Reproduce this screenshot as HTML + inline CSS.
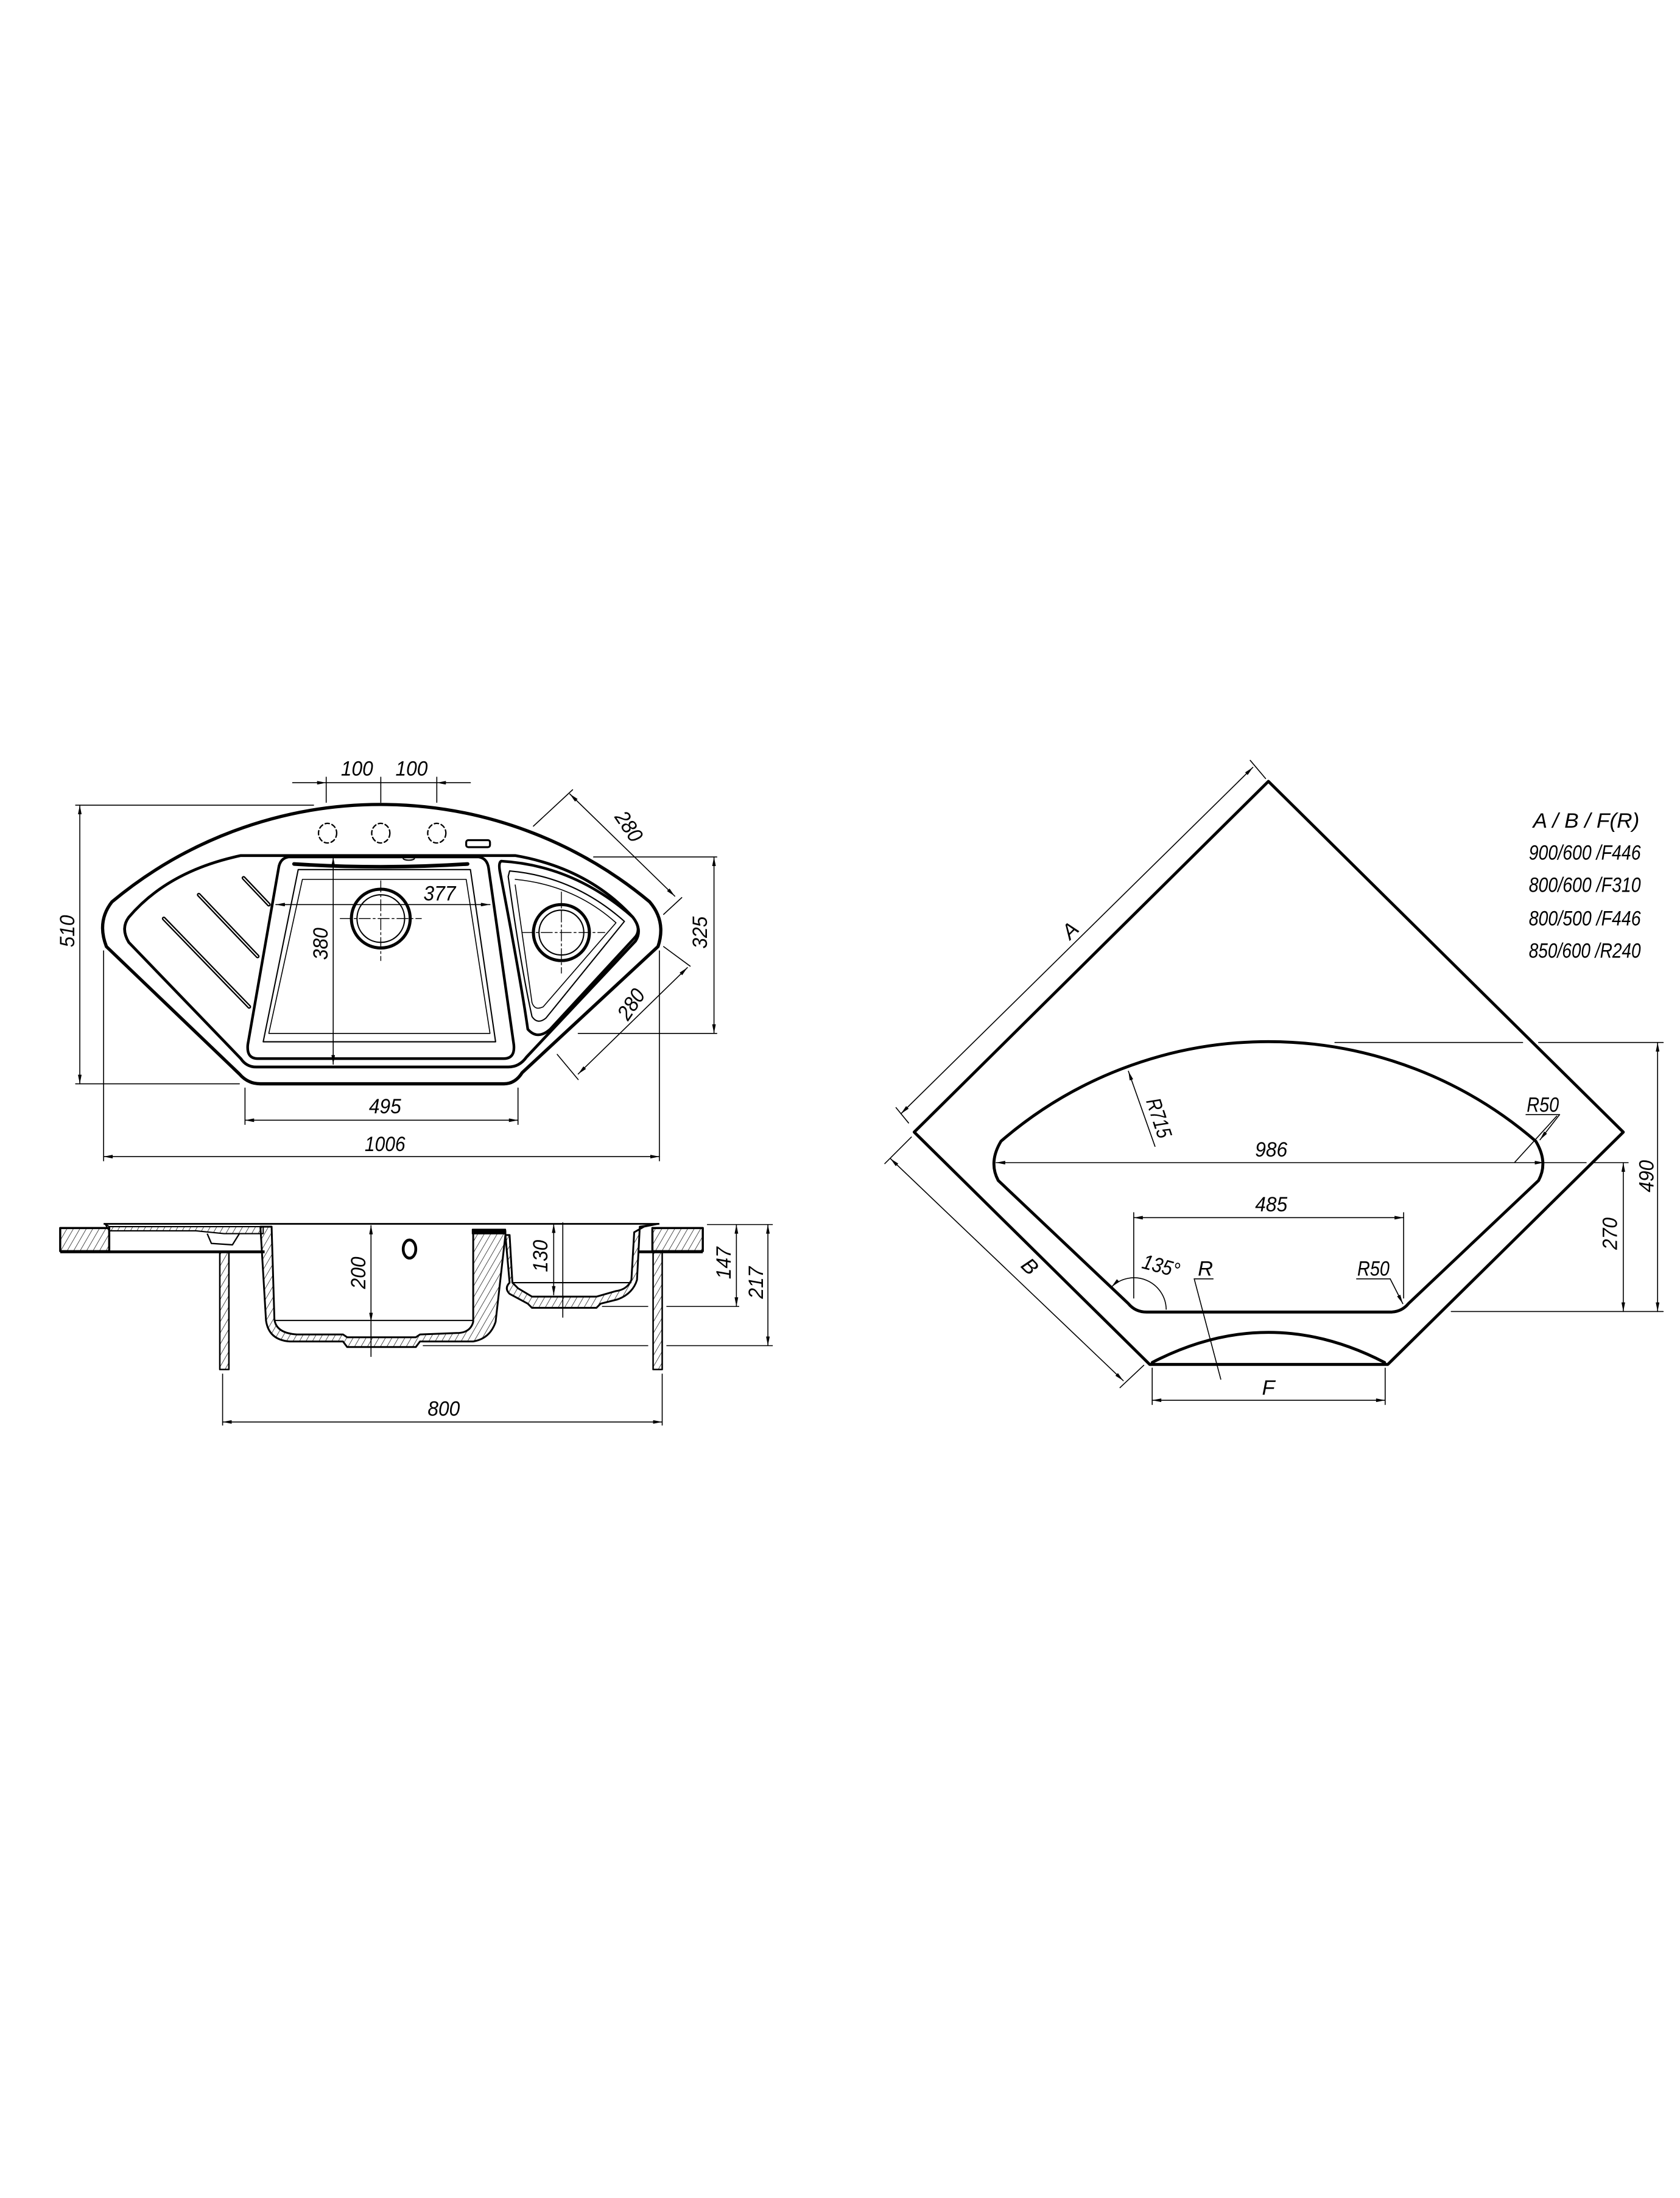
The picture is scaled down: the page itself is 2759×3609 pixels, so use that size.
<!DOCTYPE html>
<html><head><meta charset="utf-8"><style>
html,body{margin:0;padding:0;background:#fff;}
svg{display:block;}
text{font-family:"Liberation Sans",sans-serif;font-style:italic;fill:#000;}
</style></head><body>
<svg width="2759" height="3609" viewBox="0 0 1200 1569.7" xmlns="http://www.w3.org/2000/svg">
<defs>
<marker id="a" viewBox="0 0 10 4" refX="10" refY="2" markerWidth="8" markerHeight="2.6" orient="auto-start-reverse" markerUnits="userSpaceOnUse"><path d="M0,0 L10,2 L0,4 z" fill="#000"/></marker>
<pattern id="h" width="4" height="4" patternUnits="userSpaceOnUse" patternTransform="rotate(30)"><line x1="0" y1="0" x2="0" y2="4" stroke="#000" stroke-width="0.6"/></pattern>
</defs>
<rect width="1200" height="1569.7" fill="#fff"/>

<!-- ===== TOP LEFT PLAN ===== -->
<g fill="none" stroke="#000" stroke-linejoin="round" stroke-linecap="round">
<path d="M80,644 A300,300 0 0 1 464,644 Q476,658 470,676 L373,766 Q368,774 360,774 L186,774 Q177,774 171,767 L76,676 Q69,658 80,644 Z" stroke-width="2.3"/>
<path d="M172,611 L368,611 Q420,620 452,655 Q459,664 454,672 L376,755 Q371,762 363,762 L183,762 Q176,762 172,756 L92,673 Q86,663 92,655 Q120,622 172,611 Z" stroke-width="2"/>
<path d="M206,612 L342,612 Q348,613 349,620 L367,746 Q368,756 360,756 L184,756 Q176,756 177,746 L199,620 Q200,613 206,612 Z" stroke-width="1.9"/>
<path d="M213,621 L336,621 L354,744 L188,744 Z" stroke-width="0.9"/>
<path d="M216,628 L333,628 L350,738 L192,738 Z" stroke-width="0.7"/>
<path d="M210,617 Q272,621 334,617" stroke-width="2.6"/>
<path d="M358,615 Q410,618 452,655 Q459,664 453,670 L393,735 Q384,743 377,735 Q372,700 357,622 Q356,616 358,615 Z" stroke-width="1.9"/>
<path d="M364,622 Q410,626 446,658 L390,727 Q384,732 380,726 Q372,690 363,626 Z" stroke-width="0.9"/>
<path d="M368,628 Q410,632 440,659 L388,719 Q382,722 380,716 L368,632" stroke-width="0.7"/>
<g stroke-width="2.8"><line x1="174" y1="627" x2="192" y2="646"/><line x1="142" y1="639" x2="184" y2="683"/><line x1="117" y1="656" x2="178" y2="719"/></g>
<g stroke="#fff" stroke-width="0.8"><line x1="174" y1="627" x2="192" y2="646"/><line x1="142" y1="639" x2="184" y2="683"/><line x1="117" y1="656" x2="178" y2="719"/></g>
<circle cx="272" cy="656" r="21" stroke-width="2.2"/><circle cx="272" cy="656" r="17" stroke-width="0.9"/>
<circle cx="401" cy="666" r="20" stroke-width="2.2"/><circle cx="401" cy="666" r="16" stroke-width="0.9"/>
<g stroke-width="0.6" stroke-dasharray="8 2 1.5 2"><line x1="243" y1="656" x2="301" y2="656"/><line x1="272" y1="629" x2="272" y2="686"/><line x1="373" y1="666" x2="432" y2="666"/><line x1="401" y1="637" x2="401" y2="695"/></g>
<g stroke-width="1" stroke-dasharray="3 2"><ellipse cx="234" cy="595" rx="6.5" ry="7"/><ellipse cx="272" cy="595" rx="6.5" ry="7"/><ellipse cx="312" cy="595" rx="6.5" ry="7"/></g>
<rect x="333" y="600" width="17" height="5" rx="1.5" stroke-width="1.4"/>
<ellipse cx="292" cy="613" rx="4" ry="1.3" stroke-width="0.9"/>
<g stroke-width="0.7">
<line x1="209" y1="559" x2="233" y2="559" marker-end="url(#a)"/><line x1="336" y1="559" x2="312" y2="559" marker-end="url(#a)"/>
<line x1="233" y1="559" x2="312" y2="559"/>
<line x1="233" y1="555" x2="233" y2="573"/><line x1="272" y1="555" x2="272" y2="573"/><line x1="312" y1="555" x2="312" y2="573"/>
<line x1="57" y1="575" x2="57" y2="774" marker-start="url(#a)" marker-end="url(#a)"/>
<line x1="54" y1="575" x2="224" y2="575"/><line x1="54" y1="774" x2="171" y2="774"/>
<line x1="197" y1="646" x2="350" y2="646" marker-start="url(#a)" marker-end="url(#a)"/>
<line x1="238" y1="612" x2="238" y2="760" marker-start="url(#a)" marker-end="url(#a)"/>
<line x1="407" y1="567" x2="482" y2="640" marker-start="url(#a)" marker-end="url(#a)"/>
<line x1="381" y1="590" x2="409" y2="564"/><line x1="474" y1="653" x2="487" y2="641"/>
<line x1="510" y1="612" x2="510" y2="738" marker-start="url(#a)" marker-end="url(#a)"/>
<line x1="424" y1="612" x2="512" y2="612"/><line x1="413" y1="738" x2="512" y2="738"/>
<line x1="491" y1="691" x2="413" y2="767" marker-start="url(#a)" marker-end="url(#a)"/>
<line x1="474" y1="676" x2="493" y2="690"/><line x1="398" y1="753" x2="413" y2="771"/>
<line x1="175" y1="800" x2="370" y2="800" marker-start="url(#a)" marker-end="url(#a)"/>
<line x1="175" y1="777" x2="175" y2="803"/><line x1="370" y1="777" x2="370" y2="803"/>
<line x1="74" y1="826" x2="471" y2="826" marker-start="url(#a)" marker-end="url(#a)"/>
<line x1="74" y1="679" x2="74" y2="829"/><line x1="471" y1="679" x2="471" y2="829"/>
</g>
</g>
<g font-size="15">
<text x="255" y="554" text-anchor="middle" textLength="23" lengthAdjust="spacingAndGlyphs">100</text>
<text x="294" y="554" text-anchor="middle" textLength="23" lengthAdjust="spacingAndGlyphs">100</text>
<text transform="translate(53,665) rotate(-90)" text-anchor="middle" textLength="23" lengthAdjust="spacingAndGlyphs">510</text>
<text x="314" y="643" text-anchor="middle" textLength="23" lengthAdjust="spacingAndGlyphs">377</text>
<text transform="translate(234,674) rotate(-90)" text-anchor="middle" textLength="23" lengthAdjust="spacingAndGlyphs">380</text>
<text transform="translate(445,593) rotate(56)" text-anchor="middle" textLength="23" lengthAdjust="spacingAndGlyphs">280</text>
<text transform="translate(505,666) rotate(-90)" text-anchor="middle" textLength="23" lengthAdjust="spacingAndGlyphs">325</text>
<text transform="translate(455,720) rotate(-56)" text-anchor="middle" textLength="23" lengthAdjust="spacingAndGlyphs">280</text>
<text x="275" y="795" text-anchor="middle" textLength="23" lengthAdjust="spacingAndGlyphs">495</text>
<text x="275" y="822" text-anchor="middle" textLength="29" lengthAdjust="spacingAndGlyphs">1006</text>
</g>

<!-- ===== SECTION ===== -->
<g fill="none" stroke="#000" stroke-linejoin="round">
<rect x="43" y="877" width="35" height="16.5" fill="url(#h)" stroke-width="1.5"/>
<rect x="466" y="877" width="36" height="16.5" fill="url(#h)" stroke-width="1.5"/>
<line x1="43" y1="894" x2="189" y2="894" stroke-width="2"/>
<line x1="456" y1="894" x2="502" y2="894" stroke-width="2"/>
<line x1="74" y1="874" x2="471" y2="874" stroke-width="1.2"/>
<path d="M75,874 L78,876 L188,876 L188,881 L160,881 L140,879 L78,879 Z" fill="url(#h)" stroke-width="0.9"/>
<path d="M148,881 L151,888 L166,889 L171,881" stroke-width="1"/>
<rect x="157" y="894" width="6.5" height="84" fill="url(#h)" stroke-width="1.1"/>
<rect x="466.5" y="894" width="6.5" height="84" fill="url(#h)" stroke-width="1.1"/>
<path d="M186,876 L190,943 Q192,957 207,958 L245,958 L248,962 L297,962 L300,958 L338,958 Q350,956 354,944 L361,882 L361,879 L338,879 L338,944 Q336,952 326,952 L300,953 L297,955 L248,955 L245,953 L212,953 Q197,952 196,942 L194,876 Z" fill="url(#h)" stroke-width="1.3"/>
<line x1="196" y1="943" x2="338" y2="943" stroke-width="0.9"/>
<rect x="337.5" y="878" width="23.5" height="3" fill="#000"/>
<ellipse cx="292.5" cy="892" rx="4.5" ry="6.5" stroke-width="2"/>
<path d="M361,882 L364,916 Q360,920 364,924 L377,931 L380,934 L426,934 L429,931 L441,928 Q452,924 455,914 L457,876 L470,874 L460,876 L453,880 L451,914 Q448,921 440,922 L426,926 L380,926 L370,920 L366,916 L364,882 Z" fill="url(#h)" stroke-width="1.3"/>
<line x1="366" y1="916" x2="451" y2="916" stroke-width="0.9"/>
<g stroke-width="0.7">
<line x1="265" y1="875" x2="265" y2="944" marker-start="url(#a)" marker-end="url(#a)"/>
<line x1="265" y1="944" x2="265" y2="969"/>
<line x1="395.5" y1="874" x2="395.5" y2="925" marker-start="url(#a)" marker-end="url(#a)"/>
<line x1="402" y1="873" x2="402" y2="941"/>
<line x1="526" y1="874.5" x2="526" y2="933" marker-start="url(#a)" marker-end="url(#a)"/>
<line x1="548.5" y1="874.5" x2="548.5" y2="961" marker-start="url(#a)" marker-end="url(#a)"/>
<line x1="505" y1="874.5" x2="552" y2="874.5"/>
<line x1="430" y1="933" x2="463" y2="933"/><line x1="476" y1="933" x2="528" y2="933"/>
<line x1="302" y1="961" x2="463" y2="961"/><line x1="476" y1="961" x2="552" y2="961"/>
<line x1="159" y1="1015.5" x2="473" y2="1015.5" marker-start="url(#a)" marker-end="url(#a)"/>
<line x1="159" y1="981" x2="159" y2="1018"/><line x1="473" y1="981" x2="473" y2="1018"/>
</g>
</g>
<g font-size="15">
<text transform="translate(261,909) rotate(-90)" text-anchor="middle" textLength="23" lengthAdjust="spacingAndGlyphs">200</text>
<text transform="translate(391,897) rotate(-90)" text-anchor="middle" textLength="23" lengthAdjust="spacingAndGlyphs">130</text>
<text transform="translate(522,902) rotate(-90)" text-anchor="middle" textLength="23" lengthAdjust="spacingAndGlyphs">147</text>
<text transform="translate(545,916) rotate(-90)" text-anchor="middle" textLength="23" lengthAdjust="spacingAndGlyphs">217</text>
<text x="317" y="1011" text-anchor="middle" textLength="23" lengthAdjust="spacingAndGlyphs">800</text>
</g>

<!-- ===== RIGHT CUTOUT ===== -->
<g fill="none" stroke="#000" stroke-linejoin="round" stroke-linecap="round">
<path d="M906,558 L1159.5,808.5 L991.3,974.4 L821.2,974.4 L653,808.5 Z" stroke-width="2.1"/>
<path d="M823,973 Q906,930 989,973" stroke-width="2.1"/>
<path d="M715,815 A292,292 0 0 1 1097,815 Q1106,830 1099,843 L1006,931 Q1001,937 993,937 L819,937 Q811,937 806,931 L713,843 Q706,830 715,815 Z" stroke-width="2.1"/>
<g stroke-width="0.7">
<line x1="643.5" y1="795.4" x2="894.9" y2="548" marker-start="url(#a)" marker-end="url(#a)"/>
<line x1="893" y1="543" x2="904" y2="556"/><line x1="640" y1="791" x2="649" y2="802"/>
<line x1="636" y1="827.4" x2="802.3" y2="986" marker-start="url(#a)" marker-end="url(#a)"/>
<line x1="632" y1="831" x2="651" y2="812"/><line x1="800" y1="991" x2="817" y2="975"/>
<line x1="825" y1="818.7" x2="806" y2="765" marker-end="url(#a)"/>
<line x1="711.5" y1="830.3" x2="1102.8" y2="830.3" marker-start="url(#a)" marker-end="url(#a)"/>
<line x1="1102.8" y1="830.3" x2="1133" y2="830.3"/>
<line x1="1082" y1="830" x2="1112" y2="797"/>
<line x1="1090" y1="796" x2="1114" y2="796"/><line x1="1114" y1="796" x2="1100" y2="814" marker-end="url(#a)"/>
<line x1="809.8" y1="869.6" x2="1002.6" y2="869.6" marker-start="url(#a)" marker-end="url(#a)"/>
<line x1="809.8" y1="866" x2="809.8" y2="927"/><line x1="1002.6" y1="866" x2="1002.6" y2="927"/>
<path d="M833,935 A23,23 0 0 0 794,919" marker-end="url(#a)"/>
<line x1="853" y1="913.3" x2="866.5" y2="913.3"/><line x1="853" y1="913.3" x2="872" y2="985"/>
<line x1="969" y1="913.3" x2="993" y2="913.3"/><line x1="993" y1="913.3" x2="1002" y2="931" marker-end="url(#a)"/>
<line x1="1184" y1="744.5" x2="1184" y2="936.6" marker-start="url(#a)" marker-end="url(#a)"/>
<line x1="953.5" y1="744.5" x2="1087.6" y2="744.5"/><line x1="1099" y1="744.5" x2="1188" y2="744.5"/>
<line x1="1036.6" y1="936.6" x2="1188" y2="936.6"/>
<line x1="1159.5" y1="830.3" x2="1159.5" y2="936.6" marker-start="url(#a)" marker-end="url(#a)"/>
<line x1="1137" y1="830.3" x2="1163" y2="830.3"/>
<line x1="823" y1="977" x2="823" y2="1003"/><line x1="989.4" y1="977" x2="989.4" y2="1003"/>
<line x1="823" y1="1000" x2="989.4" y2="1000" marker-start="url(#a)" marker-end="url(#a)"/>
</g>
</g>
<g font-size="15">
<text transform="translate(768,668) rotate(-45)" text-anchor="middle">A</text>
<text transform="translate(732,908) rotate(45)" text-anchor="middle">B</text>
<text transform="translate(823,800) rotate(72)" text-anchor="middle" textLength="29" lengthAdjust="spacingAndGlyphs">R715</text>
<text x="908" y="826" text-anchor="middle" textLength="23" lengthAdjust="spacingAndGlyphs">986</text>
<text x="1102" y="794" text-anchor="middle" textLength="23" lengthAdjust="spacingAndGlyphs">R50</text>
<text x="908" y="865" text-anchor="middle" textLength="23" lengthAdjust="spacingAndGlyphs">485</text>
<text transform="translate(828,909) rotate(15)" text-anchor="middle" textLength="27" lengthAdjust="spacingAndGlyphs">135°</text>
<text x="861" y="911" text-anchor="middle">R</text>
<text x="981" y="911" text-anchor="middle" textLength="23" lengthAdjust="spacingAndGlyphs">R50</text>
<text transform="translate(1181,840) rotate(-90)" text-anchor="middle" textLength="23" lengthAdjust="spacingAndGlyphs">490</text>
<text transform="translate(1155,881) rotate(-90)" text-anchor="middle" textLength="23" lengthAdjust="spacingAndGlyphs">270</text>
<text x="906" y="996" text-anchor="middle">F</text>
</g>
<g font-size="15">
<text x="1133" y="591" text-anchor="middle" textLength="76" lengthAdjust="spacingAndGlyphs">A  /  B  /  F(R)</text>
<text x="1132" y="614" text-anchor="middle" textLength="80" lengthAdjust="spacingAndGlyphs">900/600 /F446</text>
<text x="1132" y="637" text-anchor="middle" textLength="80" lengthAdjust="spacingAndGlyphs">800/600 /F310</text>
<text x="1132" y="661" text-anchor="middle" textLength="80" lengthAdjust="spacingAndGlyphs">800/500 /F446</text>
<text x="1132" y="684" text-anchor="middle" textLength="80" lengthAdjust="spacingAndGlyphs">850/600 /R240</text>
</g>
</svg>
</body></html>
